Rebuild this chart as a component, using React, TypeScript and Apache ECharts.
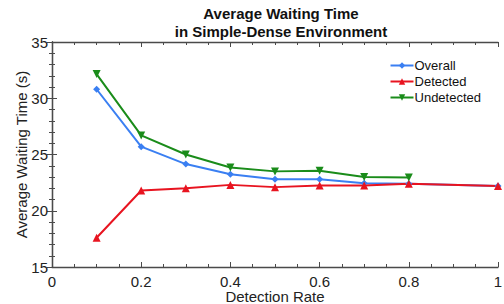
import React, { useEffect, useRef } from "react";
import * as echarts from "echarts";

const rates = [0.1, 0.2, 0.3, 0.4, 0.5, 0.6, 0.7, 0.8, 1.0];
const overall = [30.8, 25.7, 24.15, 23.25, 22.8, 22.8, 22.45, 22.4, 22.2];
const detected = [17.6, 21.8, 22.0, 22.3, 22.1, 22.25, 22.25, 22.4, 22.2];
const undetectedRates = [0.1, 0.2, 0.3, 0.4, 0.5, 0.6, 0.7, 0.8];
const undetected = [32.15, 26.7, 25.0, 23.85, 23.5, 23.55, 23.0, 22.95];

const FONT = "Liberation Sans, Arial, sans-serif";

export default function App() {
  const ref = useRef<HTMLDivElement>(null);
  useEffect(() => {
    if (!ref.current) return;
    const chart = echarts.init(ref.current, null, { renderer: "svg" });
    const axisLine = { show: true, lineStyle: { color: "#4a4a4a", width: 1.3 } };
    const tick = { show: true, inside: true, length: 5, lineStyle: { color: "#4a4a4a" } };
    const minor = (n: number) => ({ show: true, splitNumber: n, length: 3, lineStyle: { color: "#4a4a4a" } });
    chart.setOption({
      animation: false,
      textStyle: { fontFamily: FONT },
      title: {
        text: "Average Waiting Time\nin Simple-Dense Environment",
        left: 281,
        textAlign: "center",
        top: 4,
        padding: 0,
        textStyle: { fontFamily: FONT, fontSize: 15, fontWeight: "bold", color: "#111", lineHeight: 18 },
      },
      legend: {
        orient: "vertical",
        right: 18,
        top: 54,
        itemWidth: 23,
        itemHeight: 8,
        itemGap: 3,
        textStyle: { fontFamily: FONT, fontSize: 13, color: "#111", padding: [0, 0, 0, -4] },
        data: ["Overall", "Detected", "Undetected"],
      },
      grid: { left: 52, right: 6, top: 42, bottom: 37, containLabel: false, outerBoundsMode: "none" },
      xAxis: [
        {
          type: "value", min: 0, max: 1, interval: 0.2,
          axisLine, axisTick: tick, minorTick: minor(4), splitLine: { show: false },
          axisLabel: { fontFamily: FONT, fontSize: 15, lineHeight: 15, color: "#222", margin: 7,
            formatter: (v: number) => (v === 0 || v === 1 ? String(v) : v.toFixed(1)) },
          name: "Detection Rate", nameLocation: "middle", nameGap: 22, nameMoveOverlap: false,
          nameTextStyle: { fontFamily: FONT, fontSize: 15, lineHeight: 15, color: "#222" },
        },
        {
          type: "value", min: 0, max: 1, interval: 0.2, position: "top",
          axisLine, axisTick: tick, minorTick: minor(4), splitLine: { show: false },
          axisLabel: { show: false },
        },
      ],
      yAxis: [
        {
          type: "value", min: 15, max: 35, interval: 5,
          axisLine, axisTick: tick, minorTick: minor(5), splitLine: { show: false },
          axisLabel: { fontFamily: FONT, fontSize: 15, color: "#222", margin: 4 },
          name: "Average Waiting Time (s)", nameLocation: "middle", nameGap: 23, nameMoveOverlap: false,
          nameTextStyle: { fontFamily: FONT, fontSize: 15, color: "#222" },
        },
        {
          type: "value", min: 15, max: 35, interval: 5, position: "right",
          axisLine, axisTick: tick, minorTick: minor(5), splitLine: { show: false },
          axisLabel: { show: false },
        },
      ],
      series: [
        {
          name: "Overall", type: "line", data: rates.map((r, i) => [r, overall[i]]),
          symbol: "diamond", symbolSize: 7, color: "#3a7ff2",
          lineStyle: { width: 2, color: "#3a7ff2" }, itemStyle: { color: "#3a7ff2" },
        },
        {
          name: "Detected", type: "line", data: rates.map((r, i) => [r, detected[i]]),
          symbol: "triangle", symbolSize: 8, color: "#e81420",
          lineStyle: { width: 2, color: "#e81420" }, itemStyle: { color: "#e81420" },
        },
        {
          name: "Undetected", type: "line", data: undetectedRates.map((r, i) => [r, undetected[i]]),
          symbol: "triangle", symbolRotate: 180, symbolSize: 8, color: "#1a8c1a",
          lineStyle: { width: 2, color: "#1a8c1a" }, itemStyle: { color: "#1a8c1a" },
        },
      ],
    });
    return () => chart.dispose();
  }, []);
  return <div ref={ref} style={{ width: 504, height: 304, position: "absolute", left: 0, top: 0 }} />;
}
